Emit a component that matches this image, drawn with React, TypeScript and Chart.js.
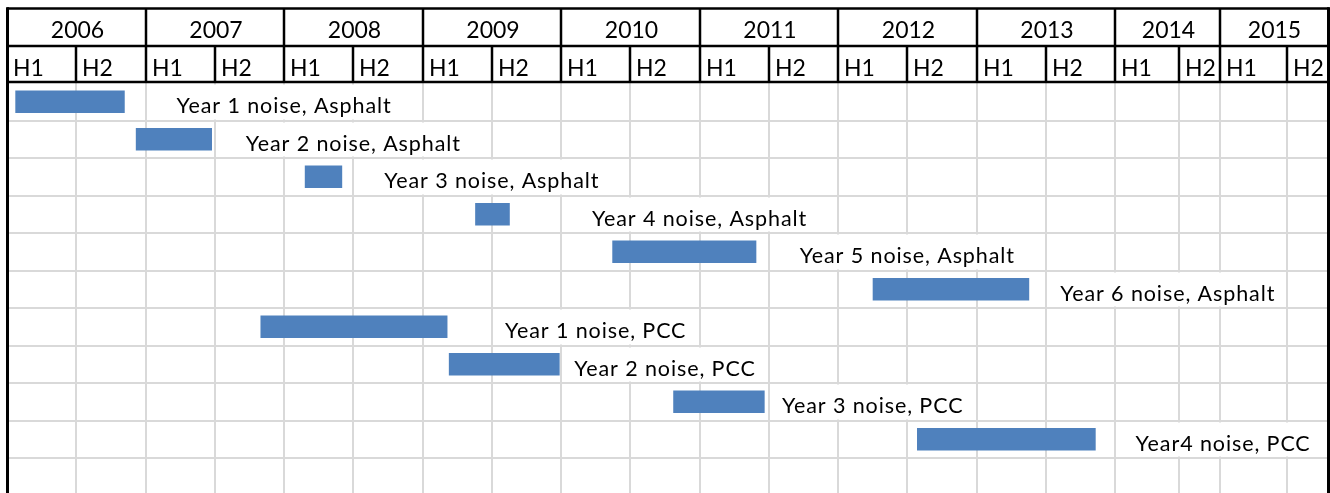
import { useEffect, useRef } from 'react';
import { Chart, registerables } from 'chart.js';

Chart.register(...registerables);

// ---- data ----
const tasks = [
  'Year 1 noise, Asphalt',
  'Year 2 noise, Asphalt',
  'Year 3 noise, Asphalt',
  'Year 4 noise, Asphalt',
  'Year 5 noise, Asphalt',
  'Year 6 noise, Asphalt',
  'Year 1 noise, PCC',
  'Year 2 noise, PCC',
  'Year 3 noise, PCC',
  'Year4 noise, PCC',
];
const startYears = [2006.06, 2006.93, 2008.15, 2009.38, 2010.37, 2012.25, 2007.83, 2009.19, 2010.81, 2012.57];
const endYears = [2006.85, 2007.48, 2008.42, 2009.63, 2011.41, 2013.38, 2009.18, 2009.99, 2011.47, 2013.86];
const labelCenters = [2008.0, 2008.5, 2009.5, 2011.0, 2012.5, 2014.38, 2010.25, 2010.75, 2012.25, 2014.78];
const yearLabels = ['2006', '2007', '2008', '2009', '2010', '2011', '2012', '2013', '2014', '2015'];
const halfLabels = ['H1', 'H2'];
const columnEdges = [
  2006, 2006.5, 2007, 2007.5, 2008, 2008.5, 2009, 2009.5, 2010, 2010.5,
  2011, 2011.5, 2012, 2012.5, 2013, 2013.5, 2014, 2014.46, 2014.76, 2015.24, 2015.53,
];
const axisMin = 2006;
const axisMax = 2015.53;
const rowMin = -0.5;
const rowMax = 10.4333;

const FONT = 'Lato, "Open Sans", sans-serif';
const LABEL_FONT = `21.5px ${FONT}`;
const LABEL_SPACING = '0.9px';
const BAR_COLOR = '#4f81bd';
const GRID_COLOR = '#d9d9d9';

const sheetPlugin = {
  id: 'sheet',
  beforeDatasetsDraw(chart: any) {
    const { ctx, chartArea, scales } = chart;
    const x = scales.x;
    const y = scales.y;
    ctx.save();
    ctx.strokeStyle = GRID_COLOR;
    ctx.lineWidth = 2;
    for (let k = 1; k < columnEdges.length - 1; k++) {
      const px = Math.round(x.getPixelForValue(columnEdges[k]));
      ctx.beginPath();
      ctx.moveTo(px, chartArea.top);
      ctx.lineTo(px, chartArea.bottom);
      ctx.stroke();
    }
    for (let i = 0; i < tasks.length; i++) {
      const py = Math.round(y.getPixelForValue(i + 0.5));
      ctx.beginPath();
      ctx.moveTo(chartArea.left, py);
      ctx.lineTo(chartArea.right, py);
      ctx.stroke();
    }
    // text overflow hides cell gridlines
    ctx.font = LABEL_FONT;
    (ctx as any).letterSpacing = LABEL_SPACING;
    const edgePx = columnEdges.map((v) => Math.round(x.getPixelForValue(v)));
    tasks.forEach((t, i) => {
      const w = ctx.measureText(t).width;
      const cx = x.getPixelForValue(labelCenters[i]);
      const l = cx - w / 2;
      const r = cx + w / 2;
      let le = edgePx[0];
      let re = edgePx[edgePx.length - 1];
      edgePx.forEach((p) => {
        if (p <= l && p > le) le = p;
        if (p >= r && p < re) re = p;
      });
      const top = Math.round(y.getPixelForValue(i - 0.5));
      const bot = Math.round(y.getPixelForValue(i + 0.5));
      ctx.fillStyle = '#ffffff';
      ctx.fillRect(le + 1.5, top + 1.5, re - le - 3, bot - top - 3);
    });
    ctx.restore();
  },
  afterDatasetsDraw(chart: any) {
    const { ctx, chartArea, scales } = chart;
    const x = scales.x;
    const y = scales.y;
    ctx.save();
    // task labels
    ctx.font = LABEL_FONT;
    (ctx as any).letterSpacing = LABEL_SPACING;
    ctx.fillStyle = '#000000';
    ctx.textAlign = 'center';
    ctx.textBaseline = 'alphabetic';
    tasks.forEach((t, i) => {
      const cx = x.getPixelForValue(labelCenters[i]);
      const top = y.getPixelForValue(i - 0.5);
      ctx.fillText(t, cx, top + 30.3);
    });

    // header
    const hTop = 8.5;
    const hMid = 46;
    const hBot = chartArea.top - 1;
    const edgePx = columnEdges.map((v) => Math.round(x.getPixelForValue(v)));
    ctx.font = `23px ${FONT}`;
    (ctx as any).letterSpacing = '0px';
    ctx.textAlign = 'center';
    yearLabels.forEach((yl, i) => {
      const a = edgePx[2 * i];
      const b = edgePx[2 * i + 2];
      ctx.fillText(yl, (a + b) / 2 + 1, 37.5);
    });
    ctx.textAlign = 'left';
    for (let c = 0; c < columnEdges.length - 1; c++) {
      ctx.fillText(halfLabels[c % 2], edgePx[c] + 6, 76);
    }

    ctx.strokeStyle = '#000000';
    ctx.lineWidth = 2.5;
    const hline = (yy: number) => {
      ctx.beginPath();
      ctx.moveTo(chartArea.left, yy);
      ctx.lineTo(chartArea.right + 2.5, yy);
      ctx.stroke();
    };
    hline(hTop);
    hline(hMid);
    hline(hBot);
    for (let c = 1; c < columnEdges.length - 1; c++) {
      ctx.beginPath();
      ctx.moveTo(edgePx[c], c % 2 === 0 ? hTop : hMid);
      ctx.lineTo(edgePx[c], hBot);
      ctx.stroke();
    }
    ctx.lineWidth = 3;
    ctx.beginPath();
    ctx.moveTo(chartArea.left + 0.5, hTop - 1.25);
    ctx.lineTo(chartArea.left + 0.5, chart.height);
    ctx.stroke();
    ctx.beginPath();
    ctx.moveTo(chartArea.right + 1.5, hTop - 1.25);
    ctx.lineTo(chartArea.right + 1.5, chart.height);
    ctx.stroke();
    ctx.restore();
  },
};

export default function App() {
  const canvasRef = useRef<HTMLCanvasElement | null>(null);

  useEffect(() => {
    if (!canvasRef.current) return;
    const chart = new Chart(canvasRef.current, {
      type: 'bar',
      data: {
        labels: tasks,
        datasets: [
          {
            label: 'Schedule',
            data: tasks.map((_, i) => ({ x: [startYears[i], endYears[i]], y: i })) as any,
            backgroundColor: BAR_COLOR,
            borderWidth: 0,
            barPercentage: 0.6,
            categoryPercentage: 1,
          },
        ],
      },
      options: {
        indexAxis: 'y',
        responsive: false,
        animation: false,
        devicePixelRatio: 1,
        layout: { padding: { left: 7, right: 3, top: 83, bottom: 0 } },
        scales: {
          x: { type: 'linear', min: axisMin, max: axisMax, display: false, offset: false, grace: 0 },
          y: {
            type: 'linear',
            min: rowMin,
            max: rowMax,
            reverse: true,
            display: false,
            offset: false,
            grace: 0,
            afterBuildTicks: (scale: any) => {
              scale.ticks = tasks.map((_, i) => ({ value: i }));
            },
          },
        },
        plugins: {
          legend: { display: false },
          tooltip: { enabled: false },
        },
      },
      plugins: [sheetPlugin],
    });
    return () => chart.destroy();
  }, []);

  return (
    <div style={{ position: 'absolute', left: 0, top: 0, width: 1330, height: 493, background: '#ffffff' }}>
      <canvas ref={canvasRef} width={1330} height={493} style={{ display: 'block' }} />
    </div>
  );
}
